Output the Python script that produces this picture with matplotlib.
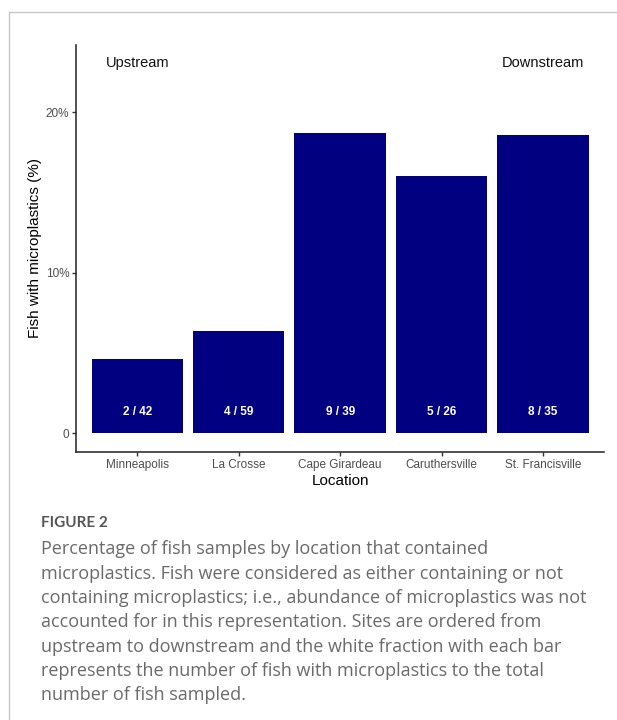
import matplotlib
matplotlib.use("Agg")
import matplotlib.pyplot as plt
from matplotlib.lines import Line2D

# data
locations = ["Minneapolis", "La Crosse", "Cape Girardeau", "Caruthersville", "St. Francisville"]
pct_with_mp = [4.61, 6.39, 18.73, 16.0, 18.59]
fish_with_mp = [2, 4, 9, 5, 8]
fish_total = [42, 59, 39, 26, 35]
y_ticks = [0, 10, 20]
y_tick_labels = ["0", "10%", "20%"]

caption_lines = [
    "Percentage of fish samples by location that contained",
    "microplastics. Fish were considered as either containing or not",
    "containing microplastics; i.e., abundance of microplastics was not",
    "accounted for in this representation. Sites are ordered from",
    "upstream to downstream and the white fraction with each bar",
    "represents the number of fish with microplastics to the total",
    "number of fish sampled.",
]

W, H = 617, 720
fig = plt.figure(figsize=(W / 100, H / 100), dpi=100)
plt.rcParams["font.family"] = ["Liberation Sans", "DejaVu Sans"]

# panel position in pixels
left, right, top, bottom = 76.3, 604, 45, 451.7
ax = fig.add_axes([left / W, 1 - bottom / H, (right - left) / W, (bottom - top) / H])

x = list(range(len(locations)))
ax.bar(x, pct_with_mp, width=0.9, color="#000080")

# fraction labels inside bars
for i in x:
    ax.text(i, 1.3, "%d / %d" % (fish_with_mp[i], fish_total[i]), color="white",
            ha="center", va="center", fontsize=8.5, fontweight="bold")

ax.text(0, 23.05, "Upstream", ha="center", va="center", fontsize=10.5, color="#111111")
ax.text(len(x) - 1, 23.05, "Downstream", ha="center", va="center", fontsize=10.5, color="#111111")

ax.set_xlim(-0.6, len(x) - 1 + 0.6)
ax.set_ylim(-1.146, 24.18)
ax.set_xticks(x)
ax.set_xticklabels(locations)
ax.set_yticks(y_ticks)
ax.set_yticklabels(y_tick_labels)

for s in ["top", "right"]:
    ax.spines[s].set_visible(False)
for s in ["left", "bottom"]:
    ax.spines[s].set_color("#222222")
    ax.spines[s].set_linewidth(1.1)
ax.tick_params(axis="both", length=2.75, width=1.0, color="#333333",
               labelsize=8.5, labelcolor="#4d4d4d", pad=2.2)

ax.set_xlabel("Location", fontsize=11, color="black", labelpad=2.5)
ax.set_ylabel("Fish with microplastics (%)", fontsize=11, color="black", labelpad=3)

# caption
fig.text(41 / W, 1 - 527 / H, "FIGURE 2", fontsize=11, fontweight="bold",
         color="#555555", family=["Lato", "DejaVu Sans"], va="baseline")
for k, line in enumerate(caption_lines):
    fig.text(41 / W, 1 - (554.5 + 24.3 * k) / H, line, fontsize=13, color="#6a6a6a",
             family=["Open Sans", "DejaVu Sans"], va="baseline")

# page frame lines
fig.add_artist(Line2D([9.3 / W, 1], [1 - 11.7 / H, 1 - 11.7 / H], color="#c8c8c8", lw=1.0))
fig.add_artist(Line2D([9.3 / W, 9.3 / W], [1 - 11.7 / H, 0], color="#c8c8c8", lw=1.0))

fig.savefig("out.png", dpi=100)
